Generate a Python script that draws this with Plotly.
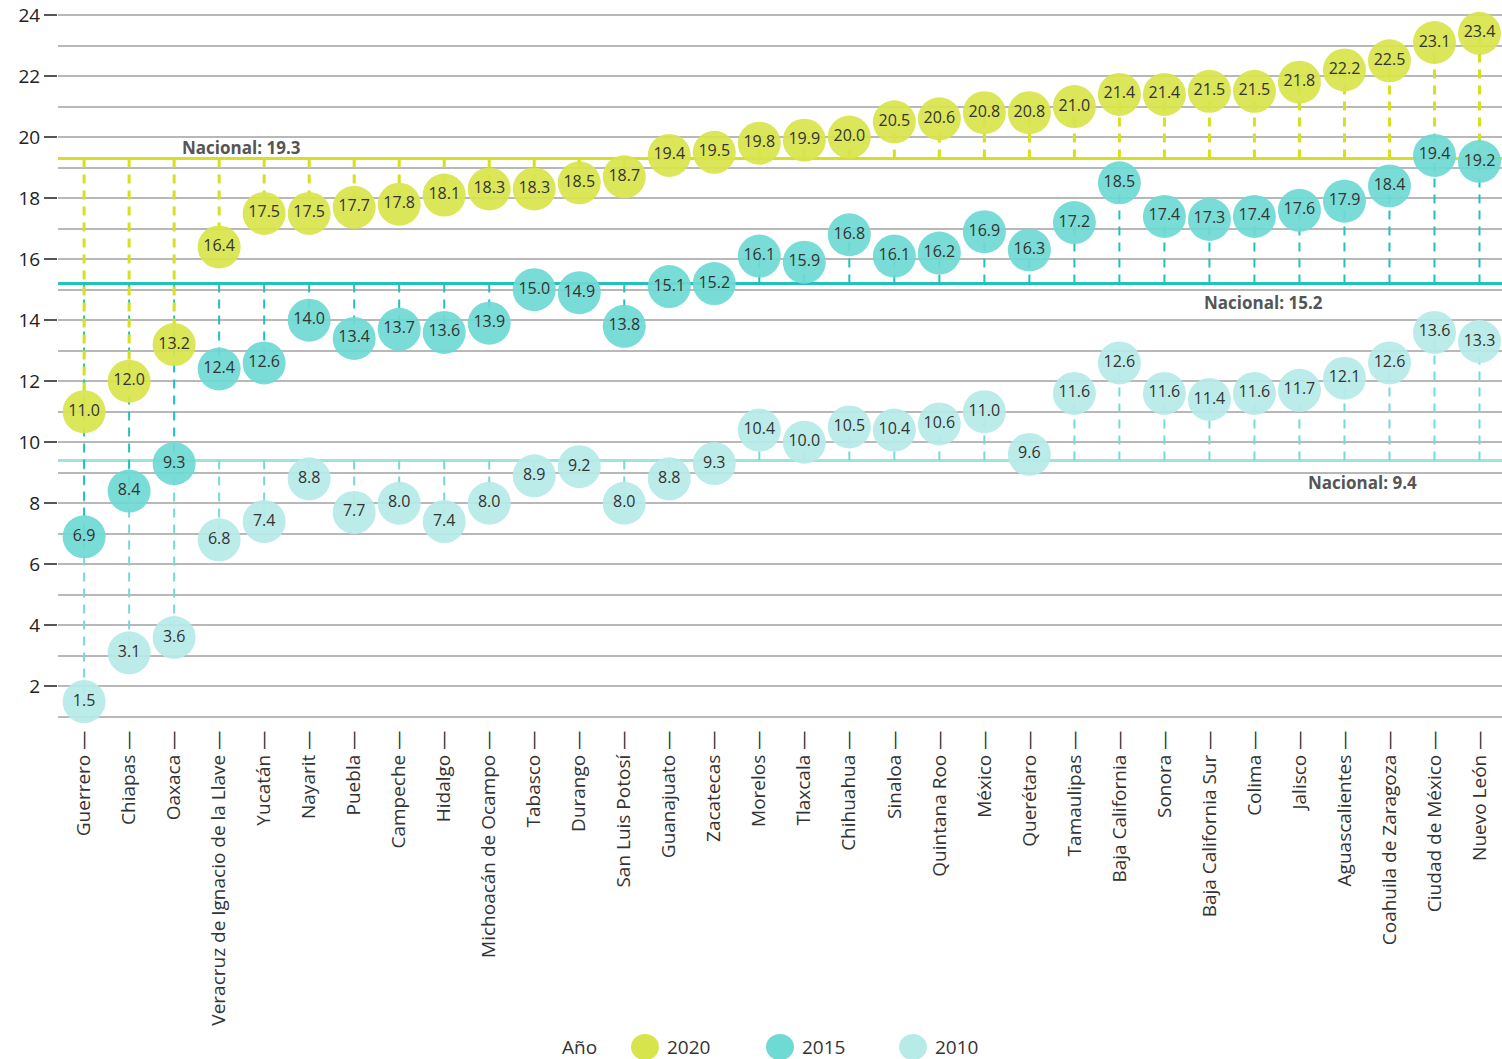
import plotly.graph_objects as go

estados = ["Guerrero", "Chiapas", "Oaxaca", "Veracruz de Ignacio de la Llave", "Yucatán", "Nayarit",
           "Puebla", "Campeche", "Hidalgo", "Michoacán de Ocampo", "Tabasco", "Durango",
           "San Luis Potosí", "Guanajuato", "Zacatecas", "Morelos", "Tlaxcala", "Chihuahua",
           "Sinaloa", "Quintana Roo", "México", "Querétaro", "Tamaulipas", "Baja California",
           "Sonora", "Baja California Sur", "Colima", "Jalisco", "Aguascalientes",
           "Coahuila de Zaragoza", "Ciudad de México", "Nuevo León"]

v2020 = [11.0, 12.0, 13.2, 16.4, 17.5, 17.5, 17.7, 17.8, 18.1, 18.3, 18.3, 18.5, 18.7, 19.4, 19.5, 19.8,
         19.9, 20.0, 20.5, 20.6, 20.8, 20.8, 21.0, 21.4, 21.4, 21.5, 21.5, 21.8, 22.2, 22.5, 23.1, 23.4]
v2015 = [6.9, 8.4, 9.3, 12.4, 12.6, 14.0, 13.4, 13.7, 13.6, 13.9, 15.0, 14.9, 13.8, 15.1, 15.2, 16.1,
         15.9, 16.8, 16.1, 16.2, 16.9, 16.3, 17.2, 18.5, 17.4, 17.3, 17.4, 17.6, 17.9, 18.4, 19.4, 19.2]
v2010 = [1.5, 3.1, 3.6, 6.8, 7.4, 8.8, 7.7, 8.0, 7.4, 8.0, 8.9, 9.2, 8.0, 8.8, 9.3, 10.4,
         10.0, 10.5, 10.4, 10.6, 11.0, 9.6, 11.6, 12.6, 11.6, 11.4, 11.6, 11.7, 12.1, 12.6, 13.6, 13.3]

nacional = {"2020": 19.3, "2015": 15.2, "2010": 9.4}
y_ticks = [2, 4, 6, 8, 10, 12, 14, 16, 18, 20, 22, 24]

series = [
    ("2010", v2010, "#b6ebe8", "#9fe3df", "#78dad5", 2),
    ("2015", v2015, "#6fd9d4", "#22c1ba", "#22c1ba", 2),
    ("2020", v2020, "#d8e44b", "#d5e021", "#d5e021", 3),
]

FONT = "Open Sans"
W, H = 1502, 1059
ML, MT, MB = 58, 12, 333
PLOT_W = W - ML
PLOT_H = H - MT - MB

fig = go.Figure()

# national lines (full width)
for name, vals, fill, nline, dcol, dw in series:
    fig.add_shape(type="line", xref="paper", yref="y", x0=0, x1=1, y0=nacional[name],
                  y1=nacional[name], line=dict(color=nline, width=3), layer="below")

# dashed connectors to national average
for name, vals, fill, nline, dcol, dw in series:
    xs, ys = [], []
    nat = nacional[name]
    for e, v in zip(estados, vals):
        xs += [e, e, None]
        ys += [nat, v, None]
    fig.add_trace(go.Scatter(x=xs, y=ys, mode="lines", showlegend=False, hoverinfo="skip",
                             line=dict(color=dcol, width=dw, dash="9px,7px")))

# markers
for name, vals, fill, nline, dcol, dw in series:
    fig.add_trace(go.Scatter(x=estados, y=vals, mode="markers+text", name=name, showlegend=False,
                             cliponaxis=False,
                             text=[f"{v:.1f}" for v in vals], textposition="middle center",
                             textfont=dict(family=FONT, size=16, color="#333333"),
                             marker=dict(size=43, color=fill, opacity=0.93, line=dict(width=0))))

fig.add_annotation(x=3.5, y=nacional["2020"], text="<b>Nacional: 19.3</b>", showarrow=False,
                   yanchor="bottom", yshift=-3, font=dict(family=FONT, size=17, color="#555555"))
fig.add_annotation(x=26.2, y=nacional["2015"], text="<b>Nacional: 15.2</b>", showarrow=False,
                   yanchor="top", yshift=-5, font=dict(family=FONT, size=17, color="#555555"))
fig.add_annotation(x=28.4, y=nacional["2010"], text="<b>Nacional: 9.4</b>", showarrow=False,
                   yanchor="top", yshift=-8, font=dict(family=FONT, size=17, color="#555555"))

# legend (drawn)
legend_items = [("2020", "#d8e44b", 645), ("2015", "#6fd9d4", 780), ("2010", "#b6ebe8", 913)]
x_of = lambda px: (px - ML) / PLOT_W
y_leg = -(1047 - (MT + PLOT_H)) / PLOT_H
fig.add_annotation(xref="paper", yref="paper", x=x_of(560), y=y_leg, xanchor="left", yanchor="middle",
                   text="Año", showarrow=False, font=dict(family=FONT, size=19, color="#333333"))
for lab, col, cx in legend_items:
    fig.add_shape(type="circle", xref="paper", yref="paper", xsizemode="pixel", ysizemode="pixel",
                  xanchor=x_of(cx), yanchor=y_leg, x0=-14, x1=14, y0=-13, y1=13,
                  fillcolor=col, line=dict(width=0))
    fig.add_annotation(xref="paper", yref="paper", x=x_of(cx + 20), y=y_leg, xanchor="left",
                       yanchor="middle", text=lab, showarrow=False,
                       font=dict(family=FONT, size=19, color="#333333"))

fig.update_layout(
    width=W, height=H,
    margin=dict(l=ML, r=0, t=MT, b=MB),
    plot_bgcolor="white", paper_bgcolor="white",
    font=dict(family=FONT, color="#333333"),
    showlegend=False,
    xaxis=dict(type="category", range=[-0.58, 31.5], showgrid=False, zeroline=False, automargin=False,
               tickmode="array", tickvals=estados, ticktext=[e + " —" for e in estados],
               tickangle=-90, ticks="",
               tickfont=dict(family=FONT, size=19, color="#333333")),
    yaxis=dict(range=[0.7, 24.1], tickmode="array", tickvals=y_ticks, automargin=False,
               ticks="outside", ticklen=13, tickwidth=2, tickcolor="#555555",
               showgrid=True, gridcolor="#b8b8b8", gridwidth=1.5, zeroline=False,
               minor=dict(dtick=1, tick0=0, showgrid=True, gridcolor="#b8b8b8", gridwidth=1.5, ticks=""),
               tickfont=dict(family=FONT, size=19, color="#222222")),
)

fig.write_html("out.html", config={"displayModeBar": False},
               post_script="document.body.style.margin='0';document.body.style.overflow='hidden';")
